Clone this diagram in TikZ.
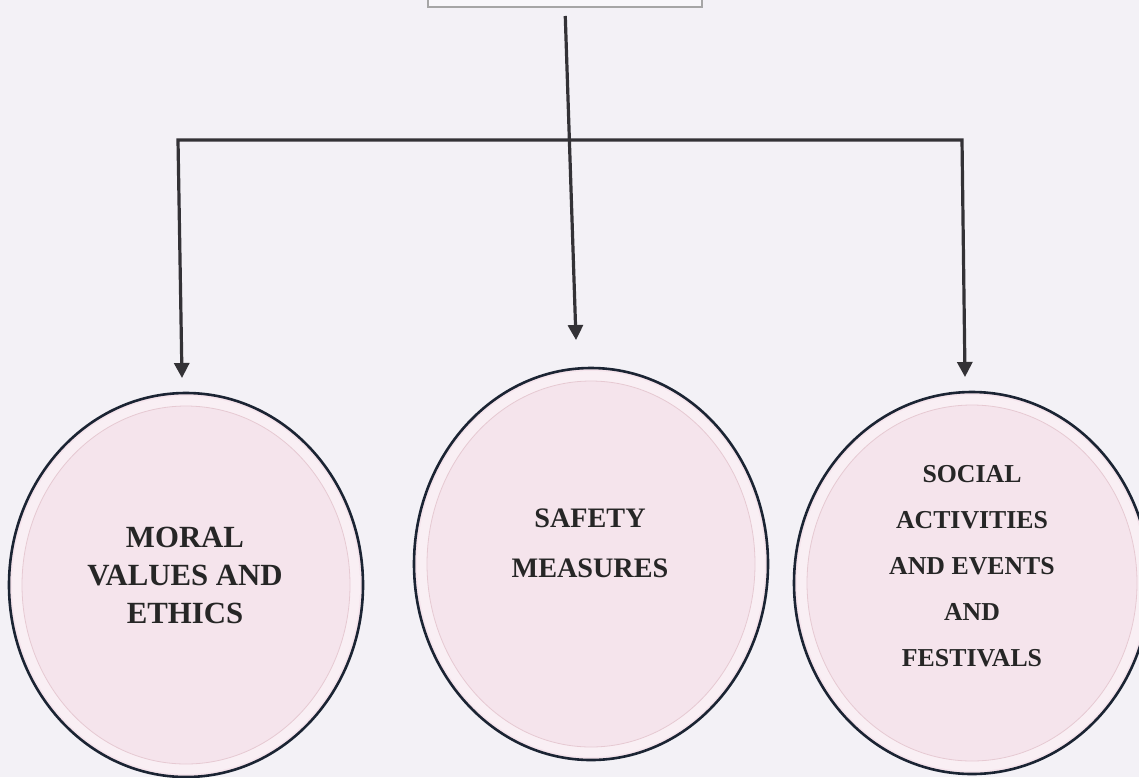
\documentclass[tikz,border=0pt]{standalone}
\usepackage{fontspec}
\setmainfont{Liberation Serif}
\usetikzlibrary{shapes.geometric,arrows.meta,positioning}

\definecolor{paper}{HTML}{F3F1F6}
\definecolor{blush}{HTML}{F5E4EC}
\definecolor{rim}{HTML}{F9EFF4}
\definecolor{seam}{HTML}{E6C9D2}
\definecolor{ink}{HTML}{1B2433}
\definecolor{wire}{HTML}{333236}

\begin{document}
\begin{tikzpicture}[x=0.5pt,y=-0.5pt,
	bubble/.style = {ellipse,draw=ink,line width=1.3pt,fill=blush,inner sep=0pt},
	band/.style = {draw=rim,line width=5pt},
	seamline/.style = {draw=seam,line width=0.4pt},
	caption/.style 2 args = {align=center,text=black!85,font=\bfseries\fontsize{#1}{#2}\selectfont},
	link/.style = {draw=wire,line width=1.6pt,-{Triangle[width=7.5pt,length=7.5pt]}}]
	
	\useasboundingbox[fill=paper] (0,0) rectangle (1139,777);
	
	% top box (cut off by the page edge)
	\node[draw=black!35,line width=1pt,fill=paper!60!white,minimum width=137pt,minimum height=30pt] (head) at (565,-23) {};
	
	% the three circles
	\node[bubble,minimum width=177pt,minimum height=192pt] (moral) at (186,585) {};
	\node[bubble,minimum width=177pt,minimum height=196pt] (safety) at (591,564) {};
	\node[bubble,minimum width=178pt,minimum height=191pt] (social) at (972,583) {};
	
	\draw[band] (moral.center) ellipse [x radius=84.5pt,y radius=92pt];
	\draw[band] (safety.center) ellipse [x radius=84.5pt,y radius=94pt];
	\draw[band] (social.center) ellipse [x radius=85pt,y radius=91.5pt];
	\draw[seamline] (moral.center) ellipse [x radius=82pt,y radius=89.5pt];
	\draw[seamline] (safety.center) ellipse [x radius=82pt,y radius=91.5pt];
	\draw[seamline] (social.center) ellipse [x radius=82.5pt,y radius=89pt];
	
	\node[caption={15.4}{19}] (moraltext) at (185,575) {MORAL\\VALUES AND\\ETHICS};
	\node[caption={14.1}{25}] (safetytext) at (590,543) {SAFETY\\MEASURES};
	\node[caption={12.9}{23}] (socialtext) at (972,566) {SOCIAL\\ACTIVITIES\\AND EVENTS\\AND\\FESTIVALS};
	
	% connectors
	\coordinate (mid) at (570,140);
	\coordinate (branchL) at (178,140);
	\coordinate (branchR) at (962,140);
	\coordinate (tipA) at (182,378);
	\coordinate (tipB) at (576,340);
	\coordinate (tipC) at (965,377);
	
	\draw[link,shorten <=4pt] (head.south) -- (tipB);
	\draw[link] (mid) -- (branchL) -- (tipA);
	\draw[link] (mid) -- (branchR) -- (tipC);
	
\end{tikzpicture}
\end{document}
